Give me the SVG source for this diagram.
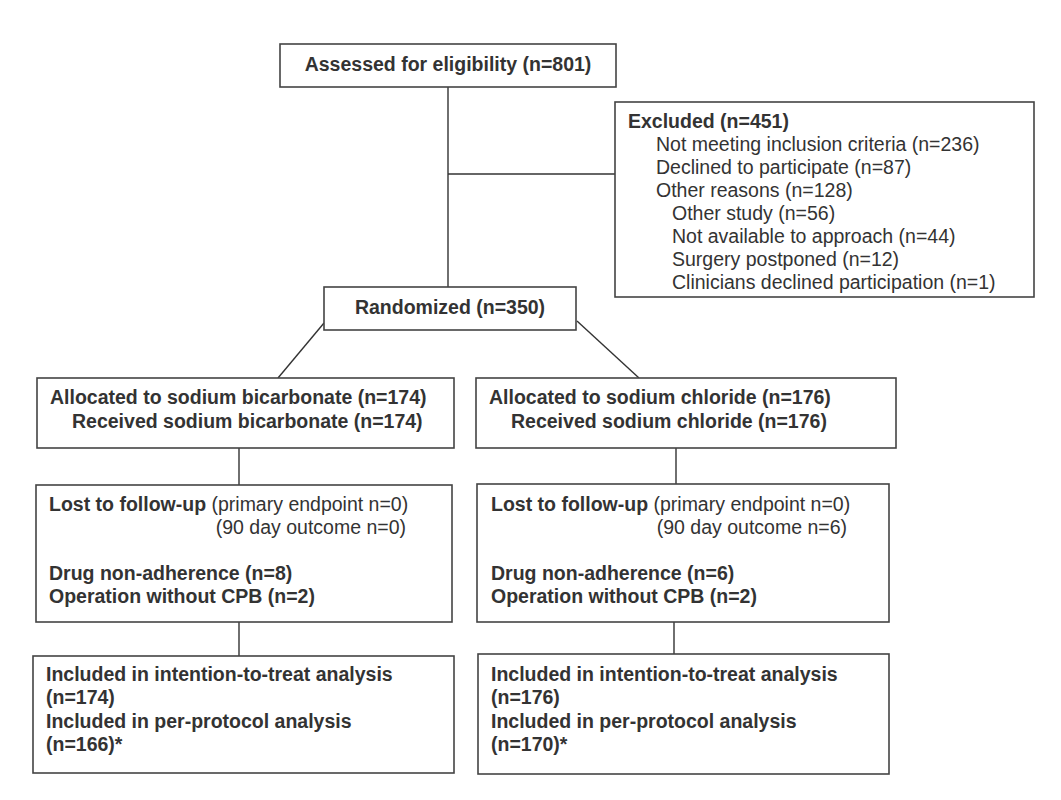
<svg xmlns="http://www.w3.org/2000/svg" width="1061" height="800" viewBox="0 0 1061 800">
<style>
rect{fill:#fff;stroke:#444;stroke-width:1.6}
line{stroke:#333;stroke-width:1.4}
text{font-family:"Liberation Sans",Arial,sans-serif;font-size:19.5px;fill:#333}
.b{font-weight:bold}
</style>
<rect x="0" y="0" width="1061" height="800" style="stroke:none"/>
<g id="connectors">
<line x1="448" y1="87" x2="448" y2="287"/>
<line x1="448" y1="174" x2="615" y2="174"/>
<line x1="324" y1="323" x2="278" y2="378"/>
<line x1="577" y1="321" x2="639" y2="378"/>
<line x1="239" y1="448" x2="239" y2="485"/>
<line x1="239" y1="622" x2="239" y2="656"/>
<line x1="676" y1="448" x2="676" y2="484"/>
<line x1="674" y1="622" x2="674" y2="654"/>
</g>
<g id="assessed"><rect x="280" y="44" width="336" height="43"/><text class="b" x="448" y="71" text-anchor="middle">Assessed for eligibility (n=801)</text></g>
<g id="excluded"><rect x="615" y="102" width="419" height="195"/>
<text class="b" x="628" y="128">Excluded (n=451)</text>
<text x="656" y="151">Not meeting inclusion criteria (n=236)</text>
<text x="656" y="174">Declined to participate (n=87)</text>
<text x="656" y="197">Other reasons (n=128)</text>
<text x="672" y="220">Other study (n=56)</text>
<text x="672" y="243">Not available to approach (n=44)</text>
<text x="672" y="266">Surgery postponed (n=12)</text>
<text x="672" y="289">Clinicians declined participation (n=1)</text></g>
<g id="randomized"><rect x="324" y="287" width="252" height="43"/><text class="b" x="450" y="314" text-anchor="middle">Randomized (n=350)</text></g>
<g id="alloc-bicarb"><rect x="37" y="378" width="417" height="70"/>
<text class="b" x="50" y="404">Allocated to sodium bicarbonate (n=174)</text>
<text class="b" x="72" y="428">Received sodium bicarbonate (n=174)</text></g>
<g id="alloc-chloride"><rect x="476" y="378" width="420" height="70"/>
<text class="b" x="489" y="404">Allocated to sodium chloride (n=176)</text>
<text class="b" x="511" y="428">Received sodium chloride (n=176)</text></g>
<g id="lost-bicarb"><rect x="36" y="485" width="416" height="137"/>
<text x="49" y="511"><tspan class="b">Lost to follow-up</tspan> (primary endpoint n=0)</text>
<text x="406" y="534" text-anchor="end">(90 day outcome n=0)</text>
<text class="b" x="49" y="580">Drug non-adherence (n=8)</text>
<text class="b" x="49" y="603">Operation without CPB (n=2)</text></g>
<g id="lost-chloride"><rect x="477" y="484" width="412" height="138"/>
<text x="491" y="511"><tspan class="b">Lost to follow-up</tspan> (primary endpoint n=0)</text>
<text x="847" y="534" text-anchor="end">(90 day outcome n=6)</text>
<text class="b" x="491" y="580">Drug non-adherence (n=6)</text>
<text class="b" x="491" y="603">Operation without CPB (n=2)</text></g>
<g id="final-bicarb"><rect x="33" y="656" width="421" height="117"/>
<text class="b" x="46" y="681">Included in intention-to-treat analysis</text>
<text class="b" x="46" y="704">(n=174)</text>
<text class="b" x="46" y="728">Included in per-protocol analysis</text>
<text class="b" x="46" y="751">(n=166)*</text></g>
<g id="final-chloride"><rect x="478" y="654" width="411" height="120"/>
<text class="b" x="491" y="681">Included in intention-to-treat analysis</text>
<text class="b" x="491" y="704">(n=176)</text>
<text class="b" x="491" y="728">Included in per-protocol analysis</text>
<text class="b" x="491" y="751">(n=170)*</text></g>
</svg>
